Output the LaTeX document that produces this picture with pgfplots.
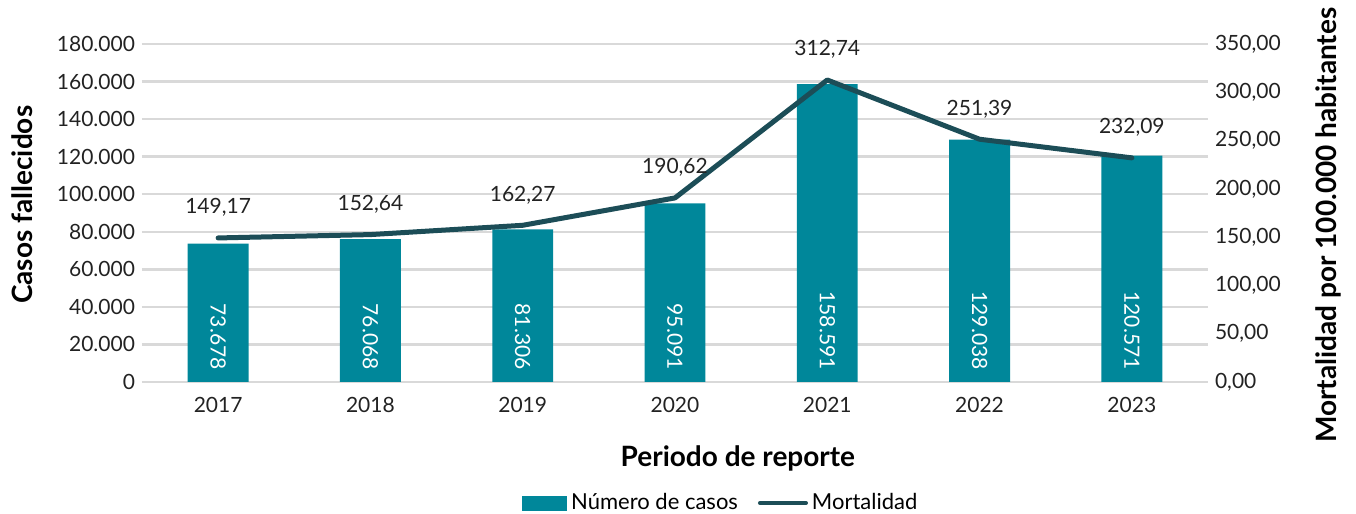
\documentclass[border=0pt]{standalone}
\usepackage{pgfplots}
\pgfplotsset{compat=1.18}
\usepackage{pgfplotstable}
\usepackage{fontspec}
\setmainfont{Lato}

\definecolor{barteal}{HTML}{00879A}
\definecolor{linedark}{HTML}{1C4D57}
\definecolor{gridgray}{HTML}{D9D9D9}
\definecolor{txt}{HTML}{222222}

\pgfplotstableread{
x anio casos mort
0 2017 73678 149.17
1 2018 76068 152.64
2 2019 81306 162.27
3 2020 95091 190.62
4 2021 158591 312.74
5 2022 129038 251.39
6 2023 120571 232.09
}\datos

\begin{document}
\begin{tikzpicture}[font=\fontsize{10.5}{12}\selectfont]
\pgfplotsset{
  base/.style={
    width=533pt, height=169pt, scale only axis,
    xmin=-0.5, xmax=6.5,
    axis line style={draw=none},
    major tick length=0pt,
    /pgf/number format/assume math mode=true,
    tick label style={text=txt},
  }
}
% casos (barras, eje izquierdo)
\begin{axis}[
  base,
  ymin=0, ymax=180000,
  ytick={0,20000,...,180000},
  scaled y ticks=false,
  yticklabel={\pgfmathprintnumber[fixed, precision=0, 1000 sep={.}]{\tick}},
  ymajorgrids,
  grid style={gridgray, line width=1.2pt},
  xtick=data,
  xticklabels={2017,2018,2019,2020,2021,2022,2023},
  xticklabel style={yshift=-4pt},
  ylabel={\fontsize{14}{16}\selectfont\bfseries Casos fallecidos},
  y label style={at={(axis description cs:-0.1126,0.524)}, anchor=center, rotate=0},
  xlabel={\fontsize{14}{16}\selectfont\bfseries Periodo de reporte},
  x label style={at={(axis description cs:0.559,-0.225)}, anchor=center},
]
\addplot[ybar, bar width=0.4, fill=barteal, draw=none] table[x=x, y=casos] {\datos};
\addplot[draw=none, mark=none, nodes near coords,
  point meta=explicit,
  nodes near coords={\pgfmathprintnumber[fixed, precision=0, 1000 sep={.}, assume math mode=true]{\pgfplotspointmeta}},
  every node near coord/.style={rotate=-90, anchor=east, text=white, inner xsep=6pt}]
  table[x=x, y expr=0, meta=casos] {\datos};
\end{axis}
% mortalidad (linea, eje derecho)
\begin{axis}[
  base,
  ymin=0, ymax=350,
  ytick={0,50,...,350},
  yticklabel={\pgfmathprintnumber[fixed, fixed zerofill, precision=2, use comma]{\tick}},
  axis y line*=right,
  axis x line=none,
  ylabel={\fontsize{14}{16}\selectfont\bfseries Mortalidad por 100.000 habitantes},
  y label style={at={(axis description cs:1.1126,0.464)}, anchor=center, rotate=0},
  legend style={at={(0.544,-0.358)}, anchor=center, draw=none, fill=none,
    legend columns=2, /tikz/every even column/.append style={column sep=8pt},
    font=\fontsize{11}{13}\selectfont},
]
\addlegendimage{legend image code/.code={\fill[barteal] (0pt,-3.5pt) rectangle (22pt,3.5pt);}}
\addlegendentry{Número de casos}
\addplot[linedark, line width=2.5pt, line join=round, line cap=round, mark=none,
  nodes near coords,
  nodes near coords={\pgfmathprintnumber[fixed, fixed zerofill, precision=2, use comma, assume math mode=true]{\pgfplotspointmeta}},
  every node near coord/.style={anchor=south, text=txt, yshift=6pt},
  legend image code/.code={\draw[linedark, line width=2pt] (0pt,0pt) -- (23pt,0pt);}]
  table[x=x, y=mort] {\datos};
\addlegendentry{Mortalidad}
\end{axis}
\pgfresetboundingbox
\useasboundingbox (-71pt,-66pt) rectangle (607pt,191pt);
\end{tikzpicture}
\end{document}
